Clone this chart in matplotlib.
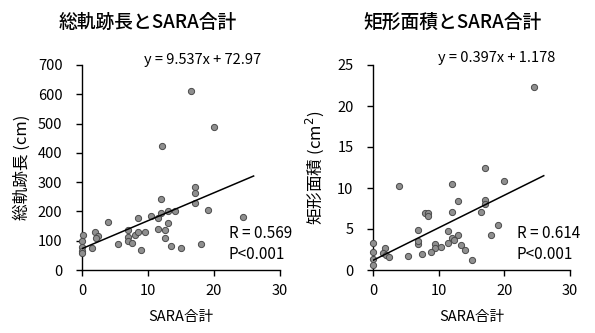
import matplotlib
matplotlib.use("Agg")
import matplotlib.pyplot as plt
import numpy as np

plt.rcParams['font.family'] = ['Noto Sans CJK JP', 'DejaVu Sans']

# Left: total path length vs SARA
sara_a = [16.5, 20.0, 12.1, 17.1, 17.1, 17.1, 12.0, 19.1, 24.4, 14.1, 13.0, 11.9, 10.5,
          11.5, 8.5, 13.0, 11.5, 12.5, 12.5, 13.5, 15.0, 18.1, 4.0, 2.0, 2.4, 2.1, 1.5,
          5.5, 7.0, 7.0, 7.0, 7.5, 8.1, 8.5, 9.5, 8.9, 0.1, 0.0, 0.0, 0.0, 0.0]
path_len = [610, 487, 423, 284, 264, 228, 243, 205, 182, 201, 201, 196, 185,
            176, 176, 159, 141, 135, 109, 83, 76, 88, 165, 131, 116, 108, 76,
            90, 135, 111, 98, 91, 119, 131, 129, 68, 119, 99, 80, 65, 57]

# Right: rectangle area vs SARA
sara_b = [24.5, 17.0, 20.0, 12.0, 3.9, 13.0, 17.0, 17.0, 16.5, 12.0, 7.9, 8.3, 8.3,
          19.0, 18.0, 6.9, 11.4, 13.0, 12.0, 12.4, 11.4, 13.4, 14.0, 15.0, 6.9, 6.9,
          9.4, 9.4, 8.9, 10.4, 7.4, 5.4, 1.9, 1.5, 2.0, 2.4, 0.0, 0.0, 0.0, 0.0]
rect_area = [22.3, 12.4, 10.8, 10.45, 10.2, 8.4, 8.5, 8.05, 7.1, 7.1, 7.0, 6.9, 6.6,
             5.5, 4.3, 4.9, 4.7, 4.3, 3.9, 3.65, 3.25, 3.1, 2.45, 1.2, 3.2, 3.5,
             3.2, 2.65, 2.25, 2.75, 1.95, 1.75, 2.65, 2.1, 1.8, 1.55, 3.25, 2.2, 1.4, 0.6]

fit_a = (9.537, 72.97)
fit_b = (0.397, 1.178)
fit_range = (0, 26)

fig = plt.figure(figsize=(5.95, 3.33), dpi=100)
axL = fig.add_axes([82/595, 63/333, 198/595, 205/333])
axR = fig.add_axes([373/595, 63/333, 197/595, 205/333])

def style(ax, ymax, ystep):
    for s in ['top', 'right']:
        ax.spines[s].set_visible(False)
    ax.set_xlim(0, 30)
    ax.set_ylim(0, ymax)
    ax.set_xticks([0, 10, 20, 30])
    ax.set_yticks(np.arange(0, ymax + 0.01, ystep))
    ax.tick_params(direction='out', length=4, width=1, labelsize=10.5)
    ax.tick_params(axis='y', pad=10)
    ax.tick_params(axis='x', pad=6)
    ax.set_xlabel('SARA合計', fontsize=10.5, labelpad=9)
    ax.set_facecolor('white')
    for s in ['left', 'bottom']:
        ax.spines[s].set_linewidth(1)

def plot(ax, x, y, fit):
    ax.scatter(x, y, s=20, c='#8f8f8f', edgecolors='#4a4a4a', linewidths=0.7, zorder=3,
               clip_on=False)
    xs = np.array(fit_range, dtype=float)
    ax.plot(xs, fit[0] * xs + fit[1], color='black', lw=1.1, zorder=4)

plot(axL, sara_a, path_len, fit_a)
style(axL, 700, 100)
axL.set_ylabel('総軌跡長 (cm)', fontsize=12, labelpad=5)
axL.text(0.607, 1.025, 'y = 9.537x + 72.97', transform=axL.transAxes, ha='center', va='center', fontsize=10.5)
axL.text(0.74, 0.176, 'R = 0.569', transform=axL.transAxes, ha='left', va='center', fontsize=11)
axL.text(0.74, 0.078, 'P<0.001', transform=axL.transAxes, ha='left', va='center', fontsize=11)

plot(axR, sara_b, rect_area, fit_b)
style(axR, 25, 5)
axR.set_ylabel('矩形面積 (cm$^2$)', fontsize=12, labelpad=8)
axR.text(0.628, 1.035, 'y = 0.397x + 1.178', transform=axR.transAxes, ha='center', va='center', fontsize=10.5)
axR.text(0.73, 0.176, 'R = 0.614', transform=axR.transAxes, ha='left', va='center', fontsize=11)
axR.text(0.73, 0.078, 'P<0.001', transform=axR.transAxes, ha='left', va='center', fontsize=11)

fig.text(148/595, 1 - 22/333, '総軌跡長とSARA合計', ha='center', va='center', fontsize=13.5, fontweight='medium')
fig.text(452/595, 1 - 22/333, '矩形面積とSARA合計', ha='center', va='center', fontsize=13.5, fontweight='medium')

fig.savefig('out.png', dpi=100, facecolor='white')
